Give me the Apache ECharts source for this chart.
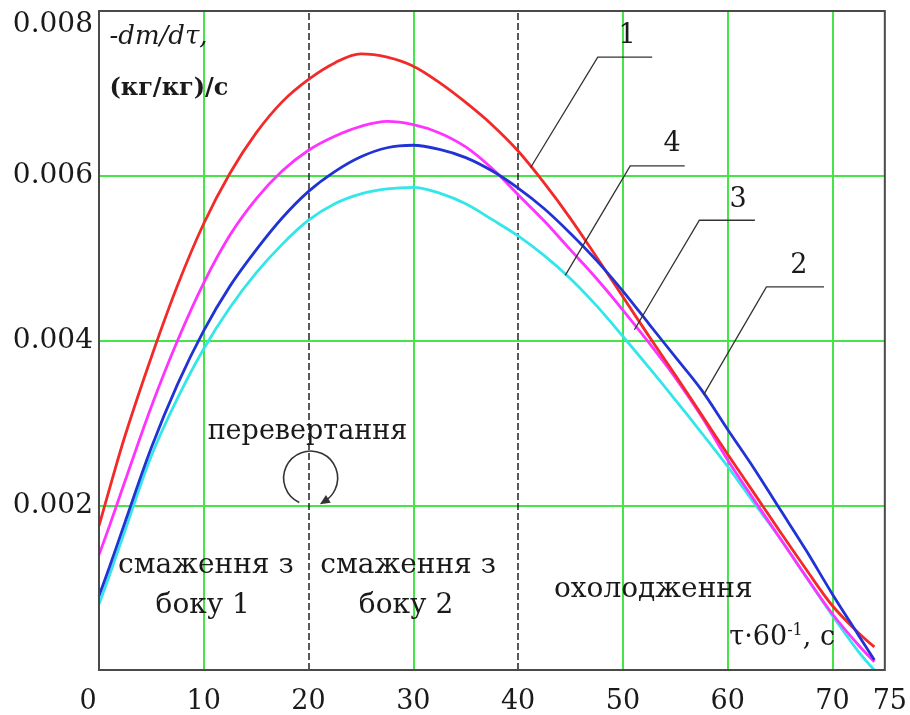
<!DOCTYPE html>
<html>
<head>
<meta charset="utf-8">
<script src="https://cdn.jsdelivr.net/npm/echarts@6/dist/echarts.min.js"></script>
<style>
html,body{margin:0;padding:0;background:#fff;}
#c{width:910px;height:715px;}
</style>
</head>
<body>
<div id="c"></div>
<script>
// time, τ·60^-1 (c)
const times = [0, 1, 2.5, 5, 7.5, 10, 12.5, 15, 17.5, 20, 22.5, 25, 27.5, 30, 32.5, 35, 37.5, 40, 42.5, 45, 47.5, 50, 52.5, 55, 57.5, 60, 62.5, 65, 67.5, 70, 72.5, 74];
// curve 1 (red)
const curve1 = [0.00175, 0.0022, 0.00285, 0.0038, 0.00467, 0.00542, 0.00603, 0.00652, 0.0069, 0.00717, 0.00737, 0.00748, 0.00744, 0.00733, 0.00713, 0.00689, 0.00662, 0.0063, 0.00591, 0.00548, 0.00501, 0.00453, 0.00405, 0.00358, 0.0031, 0.00262, 0.00215, 0.00168, 0.00122, 0.00078, 0.00045, 0.00028];
// curve 2 (blue)
const curve2 = [0.0009, 0.00125, 0.0018, 0.0027, 0.00347, 0.00412, 0.00466, 0.0051, 0.00549, 0.00581, 0.00605, 0.00623, 0.00634, 0.00637, 0.00632, 0.00622, 0.00606, 0.00585, 0.0056, 0.0053, 0.00497, 0.0046, 0.0042, 0.0038, 0.0034, 0.00292, 0.00245, 0.00195, 0.00145, 0.00092, 0.00042, 0.00012];
// curve 3 (magenta)
const curve3 = [0.0014, 0.00175, 0.0023, 0.0032, 0.0040, 0.0047, 0.00528, 0.00572, 0.00606, 0.00631, 0.00648, 0.0066, 0.00666, 0.00662, 0.00652, 0.00635, 0.00609, 0.00577, 0.00545, 0.0051, 0.00475, 0.00437, 0.00397, 0.00355, 0.00308, 0.00255, 0.00207, 0.0016, 0.00113, 0.00068, 0.0003, 0.0001];
// curve 4 (cyan)
const curve4 = [0.0008, 0.00115, 0.0017, 0.0026, 0.0033, 0.0039, 0.0044, 0.00482, 0.00517, 0.00546, 0.00566, 0.00578, 0.00584, 0.00586, 0.00579, 0.00566, 0.00547, 0.00527, 0.00503, 0.00475, 0.00442, 0.00405, 0.00367, 0.00328, 0.00288, 0.00247, 0.00203, 0.0016, 0.00113, 0.00066, 0.00022, 0.0];

const xTicks = [0, 10, 20, 30, 40, 50, 60, 70, 75];
const yTicks = [0.002, 0.004, 0.006, 0.008];
const greenX = [10, 30, 50, 60, 70];
const dashedX = [20, 40];

// curve number labels and leader lines (data coords)
const curveLabels = ['1', '4', '3', '2'];
const labelPos = [[50.4, 0.00770], [54.7, 0.00638], [61.0, 0.00570], [66.8, 0.00490]];
const leaders = [
  [[52.8, 0.00744], [47.6, 0.00744], [41.2, 0.0061]],
  [[55.9, 0.00612], [50.7, 0.00612], [44.5, 0.00479]],
  [[62.6, 0.00546], [57.3, 0.00546], [51.1, 0.00413]],
  [[69.2, 0.00465], [63.7, 0.00465], [57.7, 0.00334]]
];

const SERIF = '"DejaVu Serif", "Liberation Serif", serif';
const series = [
  {name: '4', data: curve4, color: '#33e6ea'},
  {name: '3', data: curve3, color: '#ff33ff'},
  {name: '1', data: curve1, color: '#f22a2a'},
  {name: '2', data: curve2, color: '#2233d6'}
].map(s => ({
  type: 'line', name: s.name, smooth: 0.35, symbol: 'none', silent: true,
  data: times.map((t, i) => [t, s.data[i]]),
  lineStyle: {color: s.color, width: 2.8}, z: 5
}));

series.push({
  type: 'line', data: [[0, 0]], symbol: 'none', silent: true, lineStyle: {opacity: 0},
  markLine: {
    symbol: 'none', silent: true, label: {show: false}, animation: false,
    data: [
      ...greenX.map(x => ({xAxis: x, lineStyle: {color: '#46e446', width: 2, type: 'solid'}})),
      ...dashedX.map(x => ({xAxis: x, lineStyle: {color: '#222', width: 1.5, type: [7, 3]}}))
    ]
  },
  z: 1
});

const chart = echarts.init(document.getElementById('c'));
chart.setOption({
  animation: false,
  backgroundColor: '#fff',
  grid: {left: 99, right: 21, top: 11, bottom: 45, show: true, borderColor: '#4a4a4a', borderWidth: 2, backgroundColor: 'transparent', z: 10},
  xAxis: {
    type: 'value', min: 0, max: 75, interval: 10,
    axisLine: {show: false}, axisTick: {show: false}, splitLine: {show: false},
    axisLabel: {
      margin: 18, color: '#1a1a1a', fontFamily: SERIF, fontSize: 27,
      formatter: v => v === 0 ? '{z|0}' : (v === 75 ? '{e|75}' : String(v)),
      rich: {z: {padding: [0, 22, 0, 0], fontFamily: SERIF, fontSize: 27, color: '#1a1a1a'},
             e: {padding: [0, 0, 0, 10], fontFamily: SERIF, fontSize: 27, color: '#1a1a1a'}}
    }
  },
  yAxis: {
    type: 'value', min: 0, max: 0.008, interval: 0.002,
    axisLine: {show: false}, axisTick: {show: false},
    splitLine: {show: true, showMinLine: false, showMaxLine: false, lineStyle: {color: '#46e446', width: 2}},
    axisLabel: {
      margin: 6, color: '#1a1a1a', fontFamily: SERIF, fontSize: 28,
      formatter: v => v === 0 ? '' : (Math.abs(v - 0.008) < 1e-9 ? '{t|0.008}' : v.toFixed(3)),
      rich: {t: {padding: [28, 0, 0, 0], fontFamily: SERIF, fontSize: 28, color: '#1a1a1a'}}
    }
  },
  series: series
});

function P(t, v) { return chart.convertToPixel({gridIndex: 0}, [t, v]); }
const g = [];
const txt = (t, v, text, size, extra) => {
  const p = P(t, v);
  g.push({type: 'text', x: p[0], y: p[1], z: 20,
    style: Object.assign({text: text, fill: '#1a1a1a', font: size + 'px ' + SERIF, align: 'center', verticalAlign: 'middle'}, extra || {})});
};
curveLabels.forEach((s, i) => txt(labelPos[i][0], labelPos[i][1], s, 27));
leaders.forEach(pts => {
  g.push({type: 'polyline', z: 15, shape: {points: pts.map(p => P(p[0], p[1]))}, style: {stroke: '#333', lineWidth: 1.3, fill: null}});
});
// axis title
{
  const p = P(1, 0.00768);
  g.push({type: 'text', x: p[0], y: p[1], z: 20, style: {text: '-dm/dτ,', fill: '#1a1a1a', font: 'italic 26px ' + SERIF, align: 'left', verticalAlign: 'middle'}});
  const q = P(1, 0.00705);
  g.push({type: 'text', x: q[0], y: q[1], z: 20, style: {text: '(кг/кг)/с', fill: '#1a1a1a', font: 'bold 24px ' + SERIF, align: 'left', verticalAlign: 'middle'}});
}
txt(19.9, 0.00289, 'перевертання', 27);
txt(10.2, 0.00127, 'смаження з', 28);
txt(9.9, 0.00078, 'боку 1', 28);
txt(29.5, 0.00127, 'смаження з', 28);
txt(29.3, 0.00078, 'боку 2', 28);
txt(52.9, 0.00097, 'охолодження', 28);
{
  const p = P(65.2, 0.00039);
  g.push({type: 'text', x: p[0], y: p[1], z: 20, style: {
    text: '{a|τ·60}{s|-1}{a|, с}', align: 'center', verticalAlign: 'middle',
    rich: {a: {font: '27px ' + SERIF, fill: '#1a1a1a', color: '#1a1a1a'},
           s: {font: '16px ' + SERIF, fill: '#1a1a1a', color: '#1a1a1a', padding: [0, 0, 14, 0]}}
  }});
}
// rotation arrow
{
  const c = P(20.2, 0.00233);
  const r = 27;
  const a0 = 115 * Math.PI / 180, a1 = (360 + 58) * Math.PI / 180;
  g.push({type: 'arc', z: 20, shape: {cx: c[0], cy: c[1], r: r, startAngle: a0, endAngle: a1, clockwise: true},
    style: {stroke: '#333', lineWidth: 1.6, fill: null}});
  const ex = c[0] + r * Math.cos(a1), ey = c[1] + r * Math.sin(a1);
  const tx = -Math.sin(a1), ty = Math.cos(a1);
  const nx = -ty, ny = tx;
  const L = 10, W = 4.5;
  g.push({type: 'polygon', z: 21, shape: {points: [
    [ex + tx * L * 0.6, ey + ty * L * 0.6],
    [ex - tx * L * 0.4 + nx * W, ey - ty * L * 0.4 + ny * W],
    [ex - tx * L * 0.4 - nx * W, ey - ty * L * 0.4 - ny * W]
  ]}, style: {fill: '#333'}});
}
chart.setOption({graphic: g});
</script>
</body>
</html>
